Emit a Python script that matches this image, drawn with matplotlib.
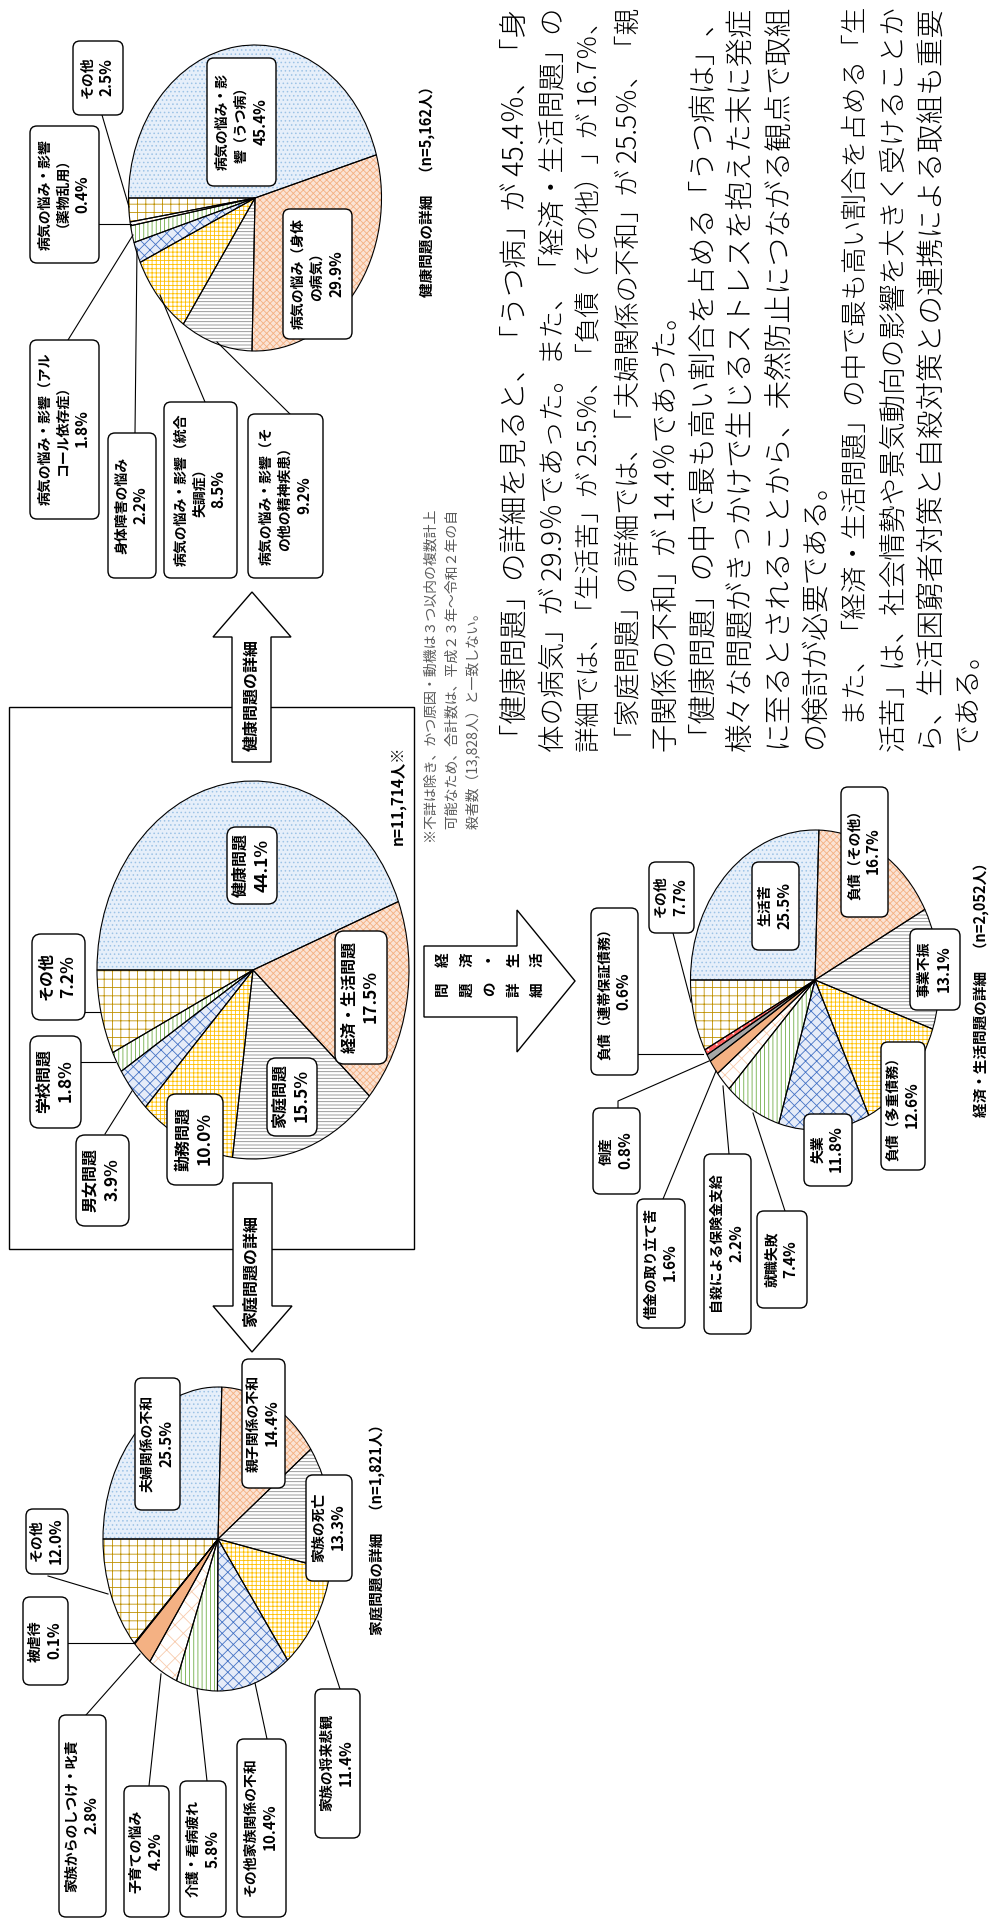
import numpy as np
import matplotlib
matplotlib.use("Agg")
import matplotlib.pyplot as plt
from matplotlib.patches import Wedge, FancyBboxPatch, Polygon, Rectangle
from matplotlib.transforms import Affine2D

plt.rcParams['font.family'] = ['Noto Sans CJK JP', 'DejaVu Sans']
plt.rcParams['hatch.linewidth'] = 0.6

# ---------------- data ----------------
health_labels = ["病気の悩み・影\n響（うつ病）", "病気の悩み（身体\nの病気）",
                 "病気の悩み・影響（そ\nの他の精神疾患）", "病気の悩み・影響（統合\n失調症）",
                 "身体障害の悩み", "病気の悩み・影響（アル\nコール依存症）",
                 "病気の悩み・影響\n（薬物乱用）", "その他"]
health_values = [45.4, 29.9, 9.2, 8.5, 2.2, 1.8, 0.4, 2.5]

main_labels = ["健康問題", "経済・生活問題", "家庭問題", "勤務問題", "男女問題", "学校問題", "その他"]
main_values = [44.1, 17.5, 15.5, 10.0, 3.9, 1.8, 7.2]

econ_labels = ["生活苦", "負債（その他）", "事業不振", "負債（多重債務）", "失業", "就職失敗",
               "自殺による保険金支給", "借金の取り立て苦", "倒産", "負債（連帯保証債務）", "その他"]
econ_values = [25.5, 16.7, 13.1, 12.6, 11.8, 7.4, 2.2, 1.6, 0.8, 0.6, 7.7]

family_labels = ["夫婦関係の不和", "親子関係の不和", "家族の死亡", "家族の将来悲観",
                 "その他家族関係の不和", "介護・看病疲れ", "子育ての悩み",
                 "家族からのしつけ・叱責", "被虐待", "その他"]
family_values = [25.5, 14.4, 13.3, 11.4, 10.4, 5.8, 4.2, 2.8, 0.1, 12.0]

health_title = "健康問題の詳細　（n=5,162人）"
main_title = "n=11,714人※"
econ_title = "経済・生活問題の詳細　（n=2,052人）"
family_title = "家庭問題の詳細　（n=1,821人）"

note_lines = ["※不詳は除き、かつ原因・動機は３つ以内の複数計上",
              "　可能なため、合計数は、平成２３年～令和２年の自",
              "　殺者数（13,828人）と一致しない。"]

body_lines = [
    "「健康問題」の詳細を見ると、「うつ病」が 45.4％、「身",
    "体の病気」が 29.9％であった。また、「経済・生活問題」の",
    "詳細では、「生活苦」が 25.5％、「負債（その他）」が 16.7％、",
    "「家庭問題」の詳細では、「夫婦関係の不和」が 25.5％、「親",
    "子関係の不和」が 14.4％であった。",
    "「健康問題」の中で最も高い割合を占める「うつ病は」、",
    "様々な問題がきっかけで生じるストレスを抱えた末に発症",
    "に至るとされることから、未然防止につながる観点で取組",
    "の検討が必要である。",
    "　また、「経済・生活問題」の中で最も高い割合を占める「生",
    "活苦」は、社会情勢や景気動向の影響を大きく受けることか",
    "ら、生活困窮者対策と自殺対策との連携による取組も重要",
    "である。",
]
body_last = [4, 8, 12]   # paragraph-final lines (not justified)

# ---------------- styles ----------------
# (face, hatch, hatch colour) by slice order; last slice is always "その他"
STYLES = [
    ("#E6EFFA", "....", "#9DC3E6"),
    ("#FBE3D4", "xxxxx", "#F4B183"),
    ("white", "-----", "#8C8C8C"),
    ("white", "++++", "#FFC000"),
    ("#E6ECF8", "xxx", "#4472C4"),
    ("white", "||||", "#70AD47"),
    ("white", "xx", "#F8CBAD"),
    ("#F4B183", "", "#F4B183"),
    ("#A6A6A6", "", "#A6A6A6"),
    ("#FF6060", "...", "white"),
]
OTHER = ("white", "++", "#BF9000")

# ---------------- layout (pixel coords) ----------------
health_geo = (255, 198, 126.5, 153)
main_geo = (253, 970, 156, 189)
econ_geo = (815, 980, 124.5, 150)
family_geo = (218, 1539, 115, 152)

health_boxes = [(207, 58, 276, 186), (283, 209, 352, 339), (248, 414, 323, 578),
                (164, 402, 237, 578), (108, 433, 156, 578), (30, 340, 99, 519),
                (30, 126, 99, 263), (73, 41, 123, 115)]
health_leaders = [None, None, [(290, 414), (217, 342)], [(205, 402), (160, 295)],
                  [(135, 433), (137, 249)], [(68, 340), (133, 235)],
                  [(99, 224), (131, 224)], [(102, 115), (129, 207)]]

main_boxes = [(227, 827, 277, 904), (335, 931, 387, 1064), (267, 1058, 317, 1136),
              (167, 1094, 223, 1185), (76, 1135, 129, 1226), (30, 1036, 81, 1128),
              (32, 934, 85, 1020)]
main_leaders = [None, None, None, None, [(105, 1134), (132, 1091)],
                [(81, 1062), (115, 1062)], [(85, 1012), (100, 1012)]]

econ_boxes = [(752, 862, 799, 950), (841, 787, 888, 917), (910, 929, 960, 1010),
              (881, 1042, 925, 1170), (804, 1114, 852, 1186), (757, 1211, 807, 1308),
              (704, 1154, 751, 1334), (637, 1199, 685, 1328), (593, 1108, 640, 1194),
              (591, 908, 638, 1075), (649, 862, 694, 933)]
econ_leaders = [None, None, None, None, None, [(785, 1211), (753, 1113)],
                [(729, 1154), (723, 1086)], [(663, 1199), (716, 1071)],
                [(618, 1108), (618, 1101), (709, 1061)], [(638, 1054), (703, 1054)],
                [(673, 933), (691, 1002)]]

family_boxes = [(135, 1378, 180, 1510), (242, 1359, 285, 1488), (306, 1475, 352, 1581),
                (315, 1689, 360, 1838), (237, 1739, 286, 1917), (180, 1781, 226, 1917),
                (124, 1786, 169, 1917), (59, 1715, 106, 1917), (23, 1597, 68, 1685),
                (26, 1509, 68, 1574)]
family_leaders = [None, None, None, [(340, 1689), (318, 1621)], [(267, 1739), (255, 1683)],
                  [(207, 1781), (197, 1689)], [(149, 1786), (161, 1674)],
                  [(86, 1715), (140, 1654)], [(68, 1643), (133, 1643)],
                  [(48, 1576), (108, 1594)]]

W, H = 1001, 1921
fig = plt.figure(figsize=(W / 100, H / 100), dpi=100)
ax = fig.add_axes([0, 0, 1, 1])
ax.set_xlim(0, W)
ax.set_ylim(H, 0)
ax.axis("off")

vtexts = []


def vtext(x, y, s, size, ha="center", **kw):
    # text turned 90 degrees, reading bottom to top, anchored at (x, y)
    t = ax.text(x, y, s, rotation=90, rotation_mode="anchor", ha=ha, va="center",
                fontsize=size, **kw)
    vtexts.append(t)
    return t


def draw_pie(values, geo):
    cx, cy, rx, ry = geo
    vals = np.asarray(values, float)
    edges = 180 - 360 * np.concatenate([[0], np.cumsum(vals)]) / vals.sum()
    trans = Affine2D().scale(rx, -ry).translate(cx, cy) + ax.transData
    n = len(vals)
    for i in range(n):
        face, hatch, hc = OTHER if i == n - 1 else STYLES[i]
        ax.add_patch(Wedge((0, 0), 1, edges[i + 1], edges[i], facecolor=face,
                           edgecolor=hc, hatch=hatch or None, lw=0, transform=trans, zorder=1))
    for i in range(n):
        ax.add_patch(Wedge((0, 0), 1, edges[i + 1], edges[i], fill=False,
                           edgecolor="black", lw=0.8, transform=trans, zorder=2))


def draw_labels(labels, values, boxes, leaders, size, pct_size, pitch, rs=7):
    for lab, v, box, lead in zip(labels, values, boxes, leaders):
        if lead is not None:
            xs, ys = zip(*lead)
            ax.plot(xs, ys, color="black", lw=0.8, zorder=2.5)
        x0, y0, x1, y1 = box
        ax.add_patch(FancyBboxPatch((x0, y0), x1 - x0, y1 - y0,
                                    boxstyle=f"round,pad=0,rounding_size={rs}",
                                    fc="white", ec="black", lw=1.0, zorder=3))
        lines = lab.split("\n") + [f"{v:.1f}%"]
        cx, cy = (x0 + x1) / 2, (y0 + y1) / 2
        n = len(lines)
        for k, s in enumerate(lines):
            fs = pct_size if k == n - 1 else size
            vtext(cx + (k - (n - 1) / 2) * pitch, cy, s, fs, fontweight="bold", zorder=4)


# main frame
ax.add_patch(Rectangle((9, 707), 405, 542, fill=False, ec="black", lw=1.0, zorder=0.5))

draw_pie(health_values, health_geo)
draw_labels(health_labels, health_values, health_boxes, health_leaders, 10, 11, 19)
draw_pie(main_values, main_geo)
draw_labels(main_labels, main_values, main_boxes, main_leaders, 11.5, 12.5, 22, rs=9)
draw_pie(econ_values, econ_geo)
draw_labels(econ_labels, econ_values, econ_boxes, econ_leaders, 10, 11, 19)
draw_pie(family_values, family_geo)
draw_labels(family_labels, family_values, family_boxes, family_leaders, 10, 11, 19)

# titles
vtext(427, 188, health_title, 10.5, fontweight="bold")
vtext(399, 797, main_title, 11, fontweight="bold")
vtext(982, 986, econ_title, 10.5, fontweight="bold")
vtext(377, 1526, family_title, 10.5, fontweight="bold")

# arrows
up = [(252, 592), (291, 637), (271, 637), (271, 762), (232, 762), (232, 637), (213, 637)]
ax.add_patch(Polygon(up, closed=True, fc="white", ec="black", lw=1.0, zorder=1))
vtext(252, 695, "健康問題の詳細", 11.5, fontweight="bold", zorder=2)
down = [(252, 1352), (292, 1306), (272, 1306), (272, 1183), (233, 1183), (233, 1306), (213, 1306)]
ax.add_patch(Polygon(down, closed=True, fc="white", ec="black", lw=1.0, zorder=1))
vtext(252, 1272, "家庭問題の詳細", 11.5, fontweight="bold", zorder=2)
right = [(575, 981), (517, 1052), (517, 1017), (424, 1017), (424, 946), (517, 946), (517, 910)]
ax.add_patch(Polygon(right, closed=True, fc="white", ec="black", lw=1.0, zorder=1))
for j, (c1, c2) in enumerate(zip("経済・生活", "問題の詳細")):
    xj = 443 + 23.5 * j
    vtext(xj, 960, c1, 10.5, fontweight="bold", zorder=2)
    vtext(xj, 990, c2, 10.5, fontweight="bold", zorder=2)

renderer = fig.canvas.get_renderer()

# note (fitted to the reference line length)
note_texts = [vtext(432 + 20.5 * k, 843, s, 10, ha="left", color="#595959")
              for k, s in enumerate(note_lines)]
note_len = 334
for k, t in enumerate(note_texts[:2]):
    t.set_fontsize(10 * note_len / t.get_window_extent(renderer).height)
note_texts[2].set_fontsize(note_texts[0].get_fontsize())

# body text, justified by fitting each full line to the column length
body_texts = [vtext(515 + 37.9 * k, 752, s, 20, ha="left", color="black", fontweight="light")
              for k, s in enumerate(body_lines)]
col_len = 744
fitted = []
for k, t in enumerate(body_texts):
    if k in body_last:
        continue
    size = 20 * col_len / t.get_window_extent(renderer).height
    t.set_fontsize(size)
    fitted.append(size)
for k in body_last:
    body_texts[k].set_fontsize(float(np.median(fitted)))

# Agg adds the glyph bitmap's left offset to x even for rotated text, which pushes
# lines that start with a bracket sideways; undo that shift.
try:
    from matplotlib.backends.backend_agg import get_hinting_flag
    for t in vtexts:
        font = renderer._prepare_font(t.get_fontproperties())
        font.set_text(t.get_text(), 0, flags=get_hinting_flag())
        xo = font.get_bitmap_offset()[0] / 64.0
        x, y = t.get_position()
        t.set_position((x - xo, y - xo))
except Exception:
    pass

fig.savefig("out.png", dpi=100)
